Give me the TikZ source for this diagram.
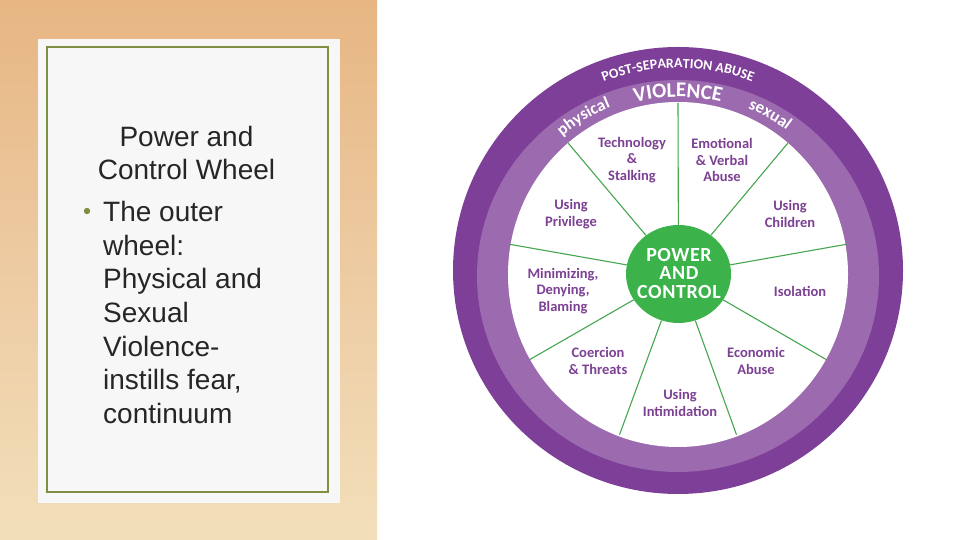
\documentclass[tikz,border=0pt]{standalone}
\usepackage{fontspec}
\setmainfont{Liberation Sans}
\newfontfamily\wfont{Carlito}
\newfontfamily\wfontls{Carlito}[LetterSpace=3]
\usetikzlibrary{shapes.geometric,decorations.text}
\definecolor{tanA}{HTML}{E7B683}
\definecolor{tanB}{HTML}{EDCBA2}
\definecolor{tanC}{HTML}{F2DFBA}
\definecolor{cardfill}{HTML}{F7F7F7}
\definecolor{olivec}{HTML}{7F8F42}
\definecolor{txtgray}{HTML}{262626}
\definecolor{darkpurple}{HTML}{7D3F97}
\definecolor{lightpurple}{HTML}{9B6AAF}
\definecolor{lblpurple}{HTML}{7C4193}
\definecolor{pcgreen}{HTML}{3BB34A}
\definecolor{spokegreen}{HTML}{45A650}
\tikzset{
  slide/.style={font=\fontsize{28}{34}\selectfont, text=txtgray, inner sep=0pt, anchor=base west},
  lbl/.style={font=\wfont\bfseries\fontsize{14.5}{16.5}\selectfont, text=lblpurple, align=center, inner sep=0pt},
  spoke/.style={draw=spokegreen, line width=1.1pt},
  arctext/.style={decorate, decoration={text along path, text align=center, text color=white, text={#1}}}
}
\begin{document}
\begin{tikzpicture}[x=1pt,y=1pt]
\useasboundingbox (0,0) rectangle (960,540);
\fill[white] (0,0) rectangle (960,540);
% wood background
\shade[top color=tanA, bottom color=tanC, middle color=tanB] (0,0) rectangle (377,540);
% card
\fill[cardfill] (38,37) rectangle (340,501);
\draw[olivec, line width=2pt] (47,48) rectangle (328,493);
% slide text
\node[slide, anchor=base] (t1) at (186.5,393) {Power and};
\node[slide, anchor=base] (t2) at (186.5,360) {Control Wheel};
\fill[olivec] (87,329) circle (3.2);
\node[slide] (b1) at (103,318) {The outer};
\node[slide] (b2) at (103,284.5) {wheel:};
\node[slide] (b3) at (103,251) {Physical and};
\node[slide] (b4) at (103,217) {Sexual};
\node[slide] (b5) at (103,183.5) {Violence-};
\node[slide] (b6) at (103,150) {instills fear,};
\node[slide] (b7) at (103,116) {continuum};
% wheel
\coordinate (C) at (678,266);
\fill[darkpurple] (678,269.5) ellipse [x radius=225, y radius=223.5];
\fill[lightpurple] (678,264) ellipse [x radius=201, y radius=196];
\fill[white] (678,265.5) ellipse [x radius=170, y radius=172.5];
\node[ellipse, fill=pcgreen, minimum width=105pt, minimum height=98pt, inner sep=0pt] (pc) at (678.5,266) {};
\foreach \a [count=\i] in {90,50,10,-30,-70,-110,-150,170,130}{
  \coordinate (s\i) at ([shift={(\a:171)}]C);
  \draw[spoke] (pc) -- (s\i);
}
\node[font=\wfontls\bfseries\fontsize{20}{18.4}\selectfont, text=white, align=center, inner sep=0pt] (pct) at (679,266.5) {POWER\\AND\\CONTROL};
% labels
\node[lbl] (l1) at (632,380) {Technology\\\&\\Stalking};
\node[lbl] (l2) at (722,380) {Emotional\\\& Verbal\\Abuse};
\node[lbl] (l3) at (571,326) {Using\\Privilege};
\node[lbl] (l4) at (790,326) {Using\\Children};
\node[lbl] (l5) at (563,249) {Minimizing,\\Denying,\\Blaming};
\node[lbl] (l6) at (800,249) {Isolation};
\node[lbl] (l7) at (598,179) {Coercion\\\& Threats};
\node[lbl] (l8) at (756,179) {Economic\\Abuse};
\node[lbl] (l9) at (680,137) {Using\\Intimidation};
% arc texts
\path[arctext={|\wfont\bfseries\fontsize{14}{14}\selectfont|POST-SEPARATION ABUSE}] ([shift={(130:206)}]C) arc[start angle=130, end angle=50, radius=206];
\path[arctext={|\wfont\bfseries\fontsize{21}{21}\selectfont|VIOLENCE}] ([shift={(125:177)}]C) arc[start angle=125, end angle=55, radius=177];
\path[arctext={|\wfont\bfseries\fontsize{17}{17}\selectfont|physical}] ([shift={(141:180)}]C) arc[start angle=141, end angle=101, radius=180];
\path[arctext={|\wfont\bfseries\fontsize{17}{17}\selectfont|sexual}] ([shift={(80:180)}]C) arc[start angle=80, end angle=40, radius=180];
\end{tikzpicture}
\end{document}
